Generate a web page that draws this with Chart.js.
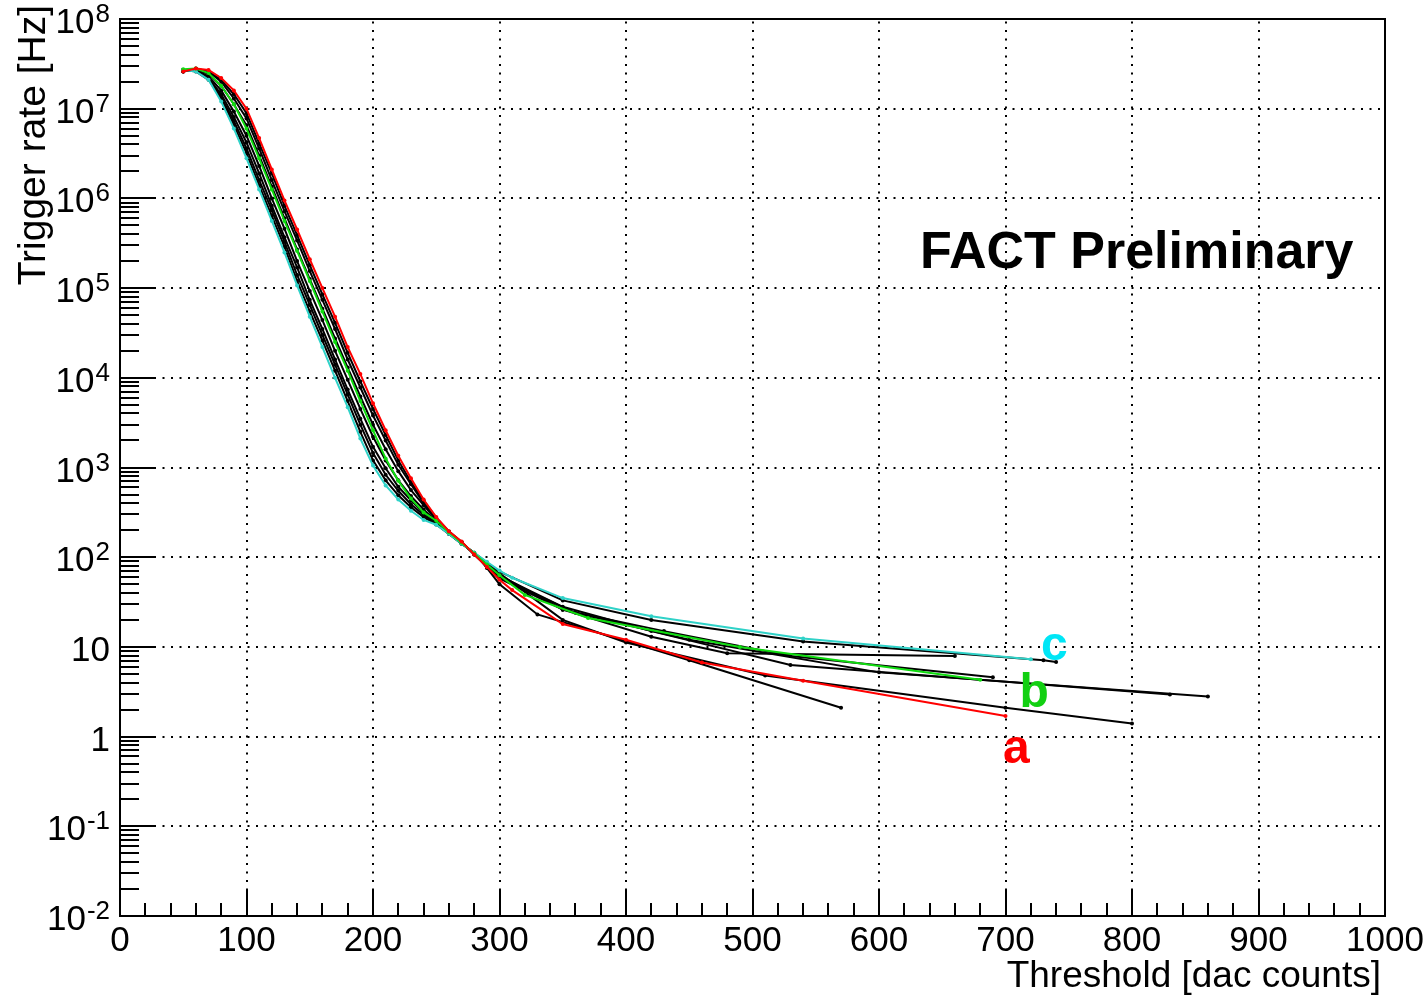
<!DOCTYPE html>
<html>
<head>
<meta charset="utf-8">
<script src="https://cdn.jsdelivr.net/npm/chart.js@4.4.1/dist/chart.umd.min.js"></script>
<style>
  html, body { margin: 0; padding: 0; background: #fff; }
  canvas { display: block; }
</style>
</head>
<body>
<canvas id="rateChart" width="1425" height="995"></canvas>
<script>
// thresholds shared by all curves in the steep part
const threshold = [50, 60, 70, 80, 90, 100, 110, 120, 130, 140, 150, 160, 170, 180, 190, 200, 210, 220, 230, 240, 250, 260, 270, 280, 290, 300];

// colored curves (a = red, b = green, c = cyan)
const rateRed = [2.6e7, 2.8e7, 2.7e7, 2.2e7, 1.6e7, 1.0e7, 4.7e6, 2.1e6, 9.5e5, 4.5e5, 2.1e5, 1.0e5, 4.8e4, 2.2e4, 1.1e4, 5.2e3, 2.6e3, 1350, 760, 440, 280, 195, 150, 107, 78, 56];
const tailRedX = [310, 350, 400, 460, 540, 700];
const tailRedY = [43, 18, 12, 6.7, 4.2, 1.7];

const rateGreen = [2.75e7, 2.8e7, 2.5e7, 1.8e7, 1.12e7, 6.0e6, 2.8e6, 1.26e6, 5.6e5, 2.6e5, 1.2e5, 5.5e4, 2.5e4, 1.2e4, 5.5e3, 2.6e3, 1260, 710, 450, 316, 255, 190, 145, 110, 83, 63];
const tailGreenX = [320, 370, 490, 680];
const tailGreenY = [38, 21, 10, 4.3];

const rateCyan = [2.7e7, 2.6e7, 2.1e7, 1.2e7, 6.0e6, 2.8e6, 1.26e6, 5.6e5, 2.5e5, 1.07e5, 4.8e4, 2.2e4, 1.0e4, 4.7e3, 2.1e3, 1050, 630, 440, 330, 260, 230, 182, 141, 112, 89, 71];
const tailCyanX = [310, 350, 420, 540, 720];
const tailCyanY = [59, 35, 22, 12.4, 7.3];

// black curves
const rateK1 = [2.7e7, 2.7e7, 2.2e7, 1.35e7, 7.3e6, 3.6e6, 1.6e6, 7.4e5, 3.3e5, 1.4e5, 6.5e4, 3.0e4, 1.4e4, 6.5e3, 3.0e3, 1450, 830, 550, 390, 295, 235, 183, 141, 112, 76, 50];
const tailK1X = [330, 450, 570];
const tailK1Y = [23, 7.1, 2.1];

const rateK2 = [2.7e7, 2.7e7, 2.2e7, 1.45e7, 8.1e6, 4.2e6, 1.9e6, 8.3e5, 3.7e5, 1.7e5, 7.4e4, 3.5e4, 1.6e4, 7.4e3, 3.5e3, 1700, 980, 610, 430, 310, 245, 186, 145, 110, 85, 66];
const tailK2X = [350, 400, 510, 700, 800];
const tailK2Y = [20, 11.2, 4.8, 2.1, 1.4];

const rateK3 = [2.6e7, 2.75e7, 2.45e7, 1.8e7, 1.12e7, 6.5e6, 3.0e6, 1.35e6, 6.0e5, 2.7e5, 1.26e5, 5.9e4, 2.75e4, 1.3e4, 6.2e3, 3.0e3, 1600, 910, 560, 380, 260, 190, 145, 110, 81, 62];
const tailK3X = [350, 420, 530, 830];
const tailK3Y = [28, 15, 6.3, 2.95];

const rateK4 = [2.6e7, 2.75e7, 2.6e7, 2.0e7, 1.3e7, 7.8e6, 3.6e6, 1.6e6, 7.2e5, 3.4e5, 1.55e5, 7.4e4, 3.5e4, 1.6e4, 7.8e3, 3.8e3, 2.0e3, 1070, 650, 400, 268, 192, 148, 107, 79, 59];
const tailK4X = [360, 450, 600, 860];
const tailK4Y = [24, 12, 5.2, 2.8];

const rateK5 = [2.6e7, 2.8e7, 2.6e7, 2.1e7, 1.45e7, 8.9e6, 4.1e6, 1.9e6, 8.3e5, 3.9e5, 1.8e5, 8.5e4, 4.1e4, 1.9e4, 9.1e3, 4.5e3, 2.3e3, 1.2e3, 690, 430, 275, 194, 148, 107, 79, 58];
const tailK5X = [350, 420, 480, 660];
const tailK5Y = [26, 13, 8.5, 7.9];

const rateK6 = [2.7e7, 2.6e7, 2.1e7, 1.3e7, 6.6e6, 3.2e6, 1.4e6, 6.4e5, 2.9e5, 1.2e5, 5.5e4, 2.6e4, 1.2e4, 5.5e3, 2.5e3, 1200, 720, 490, 360, 280, 232, 182, 141, 112, 87, 69];
const tailK6X = [350, 420, 540, 730, 740];
const tailK6Y = [33, 20, 11.5, 7.1, 6.8];

const rateK7 = [2.7e7, 2.7e7, 2.3e7, 1.6e7, 9.3e6, 5.0e6, 2.3e6, 1.0e6, 4.6e5, 2.0e5, 9.3e4, 4.4e4, 2.0e4, 9.5e3, 4.5e3, 2200, 1200, 720, 480, 340, 250, 188, 145, 110, 83, 63];
const tailK7X = [350, 430, 530, 690];
const tailK7Y = [26, 15, 7.9, 4.6];

// axis ticks and labels
const xTickValues = [0, 100, 200, 300, 400, 500, 600, 700, 800, 900, 1000];
const xTickLabels = ['0', '100', '200', '300', '400', '500', '600', '700', '800', '900', '1000'];
const yTickValues = [1e-2, 1e-1, 1, 10, 1e2, 1e3, 1e4, 1e5, 1e6, 1e7, 1e8];
const yTickBase = ['10', '10', '1', '10', '10', '10', '10', '10', '10', '10', '10'];
const yTickSup = ['-2', '-1', '', '', '2', '3', '4', '5', '6', '7', '8'];

// curve labels
const curveLabels = ['a', 'b', 'c'];
const curveLabelX = [698, 711, 728];
const curveLabelY = [0.51, 2.14, 7.1];
const curveLabelColor = ['#ff0000', '#12d012', '#00e6f6'];

const FONT = '"Liberation Sans", Arial, Helvetica, sans-serif';

function points(xs, ys, tx, ty) {
    const allX = xs.concat(tx);
    const allY = ys.concat(ty);
    return allX.map((x, i) => ({ x: x, y: allY[i] }));
}

function series(data, color) {
    return {
        data: data,
        borderColor: color,
        backgroundColor: color,
        pointBackgroundColor: color,
        pointBorderColor: color,
        borderWidth: 2,
        pointRadius: 2,
        pointBorderWidth: 0,
        tension: 0,
        fill: false
    };
}

const rootAxes = {
    id: 'rootAxes',
    beforeDatasetsDraw(chart) {
        const { ctx, chartArea: a, scales: { x, y } } = chart;
        ctx.save();
        ctx.strokeStyle = '#000';
        ctx.lineWidth = 2;
        ctx.setLineDash([2, 6.5]);
        xTickValues.forEach(v => {
            const px = Math.round(x.getPixelForValue(v));
            if (px <= a.left + 1 || px >= a.right - 1) return;
            ctx.beginPath(); ctx.moveTo(px, a.bottom); ctx.lineTo(px, a.top); ctx.stroke();
        });
        yTickValues.forEach(v => {
            const py = Math.round(y.getPixelForValue(v));
            if (py <= a.top + 1 || py >= a.bottom - 1) return;
            ctx.beginPath(); ctx.moveTo(a.left, py); ctx.lineTo(a.right, py); ctx.stroke();
        });
        ctx.restore();
    },
    afterDraw(chart) {
        const { ctx, chartArea: a, scales: { x, y } } = chart;
        ctx.save();
        ctx.strokeStyle = '#000';
        ctx.fillStyle = '#000';
        ctx.lineWidth = 2;
        ctx.setLineDash([]);

        // frame
        ctx.strokeRect(a.left, a.top, a.right - a.left, a.bottom - a.top);

        // y ticks (log)
        ctx.beginPath();
        for (let e = -2; e <= 8; e++) {
            const py = Math.round(y.getPixelForValue(Math.pow(10, e)));
            ctx.moveTo(a.left, py); ctx.lineTo(a.left + 36, py);
            if (e === 8) continue;
            for (let m = 2; m <= 9; m++) {
                const pm = Math.round(y.getPixelForValue(m * Math.pow(10, e)));
                ctx.moveTo(a.left, pm); ctx.lineTo(a.left + 19, pm);
            }
        }
        // x ticks
        for (let v = 0; v <= 1000; v += 20) {
            const px = Math.round(x.getPixelForValue(v));
            const len = v % 100 === 0 ? 26 : 13;
            ctx.moveTo(px, a.bottom); ctx.lineTo(px, a.bottom - len);
        }
        ctx.stroke();

        // x tick labels
        ctx.font = '35px ' + FONT;
        ctx.textAlign = 'center';
        ctx.textBaseline = 'alphabetic';
        xTickValues.forEach((v, i) => {
            ctx.fillText(xTickLabels[i], x.getPixelForValue(v), 951);
        });

        // y tick labels with superscripts
        yTickValues.forEach((v, i) => {
            const py = y.getPixelForValue(v);
            const base = yTickBase[i], sup = yTickSup[i];
            ctx.font = '35px ' + FONT;
            const wb = ctx.measureText(base).width;
            ctx.font = '26px ' + FONT;
            const ws = sup ? ctx.measureText(sup).width + 1 : 0;
            const right = 110;
            ctx.textAlign = 'left';
            ctx.font = '35px ' + FONT;
            ctx.fillText(base, right - ws - wb, py + 14);
            if (sup) {
                ctx.font = '26px ' + FONT;
                ctx.fillText(sup, right - ws + 1, py + 3);
            }
        });

        // axis titles
        ctx.font = '37px ' + FONT;
        ctx.textAlign = 'right';
        ctx.fillText('Threshold [dac counts]', a.right - 4, 987);
        ctx.save();
        ctx.translate(45, 5);
        ctx.rotate(-Math.PI / 2);
        ctx.font = '39px ' + FONT;
        ctx.textAlign = 'right';
        ctx.fillText('Trigger rate [Hz]', 0, 0);
        ctx.restore();

        // watermark text
        ctx.font = 'bold 52px ' + FONT;
        ctx.textAlign = 'left';
        ctx.fillText('FACT Preliminary', 920, 268);

        // curve labels
        ctx.font = 'bold 48px ' + FONT;
        curveLabels.forEach((t, i) => {
            ctx.fillStyle = curveLabelColor[i];
            ctx.fillText(t, x.getPixelForValue(curveLabelX[i]), y.getPixelForValue(curveLabelY[i]));
        });
        ctx.restore();
    }
};

const ctx = document.getElementById('rateChart').getContext('2d');
new Chart(ctx, {
    type: 'line',
    data: {
        datasets: [
            series(points(threshold, rateRed, tailRedX, tailRedY), '#ff0000'),
            series(points(threshold, rateGreen, tailGreenX, tailGreenY), '#10dc10'),
            series(points(threshold, rateCyan, tailCyanX, tailCyanY), '#2fd2c8'),
            series(points(threshold, rateK1, tailK1X, tailK1Y), '#000000'),
            series(points(threshold, rateK2, tailK2X, tailK2Y), '#000000'),
            series(points(threshold, rateK3, tailK3X, tailK3Y), '#000000'),
            series(points(threshold, rateK4, tailK4X, tailK4Y), '#000000'),
            series(points(threshold, rateK5, tailK5X, tailK5Y), '#000000'),
            series(points(threshold, rateK6, tailK6X, tailK6Y), '#000000'),
            series(points(threshold, rateK7, tailK7X, tailK7Y), '#000000')
        ]
    },
    options: {
        responsive: false,
        animation: false,
        devicePixelRatio: 1,
        layout: { padding: { left: 120, top: 19, right: 40, bottom: 79 } },
        plugins: { legend: { display: false }, tooltip: { enabled: false } },
        scales: {
            x: { type: 'linear', min: 0, max: 1000, display: false },
            y: { type: 'logarithmic', min: 1e-2, max: 1e8, display: false }
        }
    },
    plugins: [rootAxes]
});
</script>
</body>
</html>
